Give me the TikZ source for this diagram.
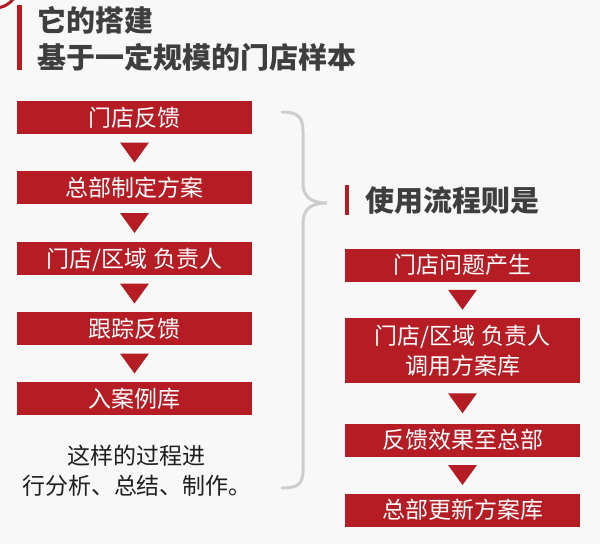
\documentclass[tikz,border=0pt]{standalone}
\usepackage{fontspec}
\newfontfamily\cjk{Noto Sans CJK SC}
\usetikzlibrary{calc}
\definecolor{redc}{HTML}{B51C24}
\definecolor{headc}{HTML}{3E3E3E}
\definecolor{bracec}{HTML}{CDCDCD}
\definecolor{bgc}{HTML}{F8F8F8}
\definecolor{txtc}{HTML}{1E1E1E}
\tikzset{
  boxbase/.style={fill=redc, text=white, minimum width=235pt, minimum height=33pt, inner sep=0pt,
    font=\cjk\fontsize{23}{30}\selectfont},
  box/.style={boxbase, text height=20.2pt, text depth=2.8pt},
  box2/.style={boxbase, minimum height=65pt, align=center},
  head/.style={text=headc, inner sep=0pt, anchor=base west, font=\cjk\bfseries\fontsize{29}{34}\selectfont},
  tri/.style={fill=redc},
}
\newcommand\downtri[2]{\fill[tri] ($(#1.south)!.5!(#2.north)+(-14.5,-10)$) -- ++(29,0) -- ($(#1.south)!.5!(#2.north)+(0,10)$) -- cycle;}
\begin{document}
\begin{tikzpicture}[x=1pt,y=-1pt]
\fill[bgc] (0,0) rectangle (600,544);
\useasboundingbox (0,0) rectangle (600,544);
\begin{scope}
\clip (0,0) rectangle (600,544);
\draw[redc, line width=3pt] (-5,-15) circle (23pt);
\end{scope}
% title
\fill[redc] (17,5) rectangle (22,70);
\node[head] (t1) at (37,31) {它的搭建};
\node[head] (t2) at (37,68) {基于一定规模的门店样本};
% left flow
\node[box] (l1) at (134.5,117.5) {门店反馈};
\node[box] (l2) at (134.5,187.5) {总部制定方案};
\node[box] (l3) at (134.5,258.5) {门店/区域 负责人};
\node[box] (l4) at (134.5,328.5) {跟踪反馈};
\node[box] (l5) at (134.5,398.5) {入案例库};
\downtri{l1}{l2}
\downtri{l2}{l3}
\downtri{l3}{l4}
\downtri{l4}{l5}
\node[text=txtc, inner sep=0pt, anchor=base, font=\cjk\fontsize{23}{30}\selectfont, align=center] (note) at (137,494) {这样的过程进\\行分析、总结、制作。};
% brace
\draw[bracec, line width=3pt, line cap=round] (282,112) .. controls (298,112) and (303,117) .. (303,132) -- (303,183) .. controls (303,196) and (310,203) .. (327,203) .. controls (310,203) and (303,210) .. (303,223) -- (303,470) .. controls (303,484) and (298,488) .. (282,488);
% right heading
\fill[redc] (345,185) rectangle (349,215);
\node[head] (rh) at (365,211) {使用流程则是};
% right flow
\node[box] (r1) at (462.5,265) {门店问题产生};
\node[box2] (r2) at (462.5,350.5) {门店/区域 负责人\\调用方案库};
\node[box] (r3) at (462.5,440) {反馈效果至总部};
\node[box] (r4) at (462.5,510) {总部更新方案库};
\downtri{r1}{r2}
\downtri{r2}{r3}
\downtri{r3}{r4}
\end{tikzpicture}
\end{document}
